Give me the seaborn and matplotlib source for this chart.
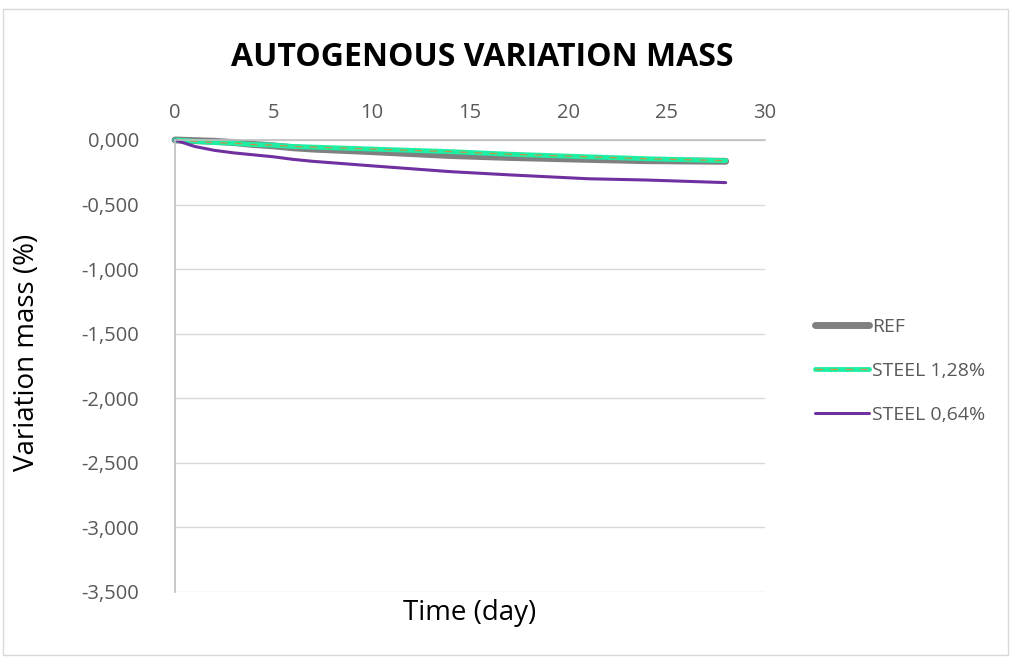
import numpy as np
import pandas as pd
import matplotlib
matplotlib.use("Agg")
import matplotlib.pyplot as plt
import seaborn as sns
from matplotlib.legend_handler import HandlerTuple
from matplotlib.patches import Rectangle

sns.set_style("white")
plt.rcParams["font.family"] = ["Open Sans", "DejaVu Sans"]

days = [0, 1, 2, 3, 4, 5, 6, 7, 10, 14, 17, 21, 24, 28]
ref = [0, -0.005, -0.01, -0.02, -0.035, -0.045, -0.06, -0.07, -0.09, -0.12, -0.135, -0.15, -0.16, -0.165]
steel_128 = [0, -0.01, -0.02, -0.025, -0.035, -0.04, -0.05, -0.055, -0.07, -0.09, -0.11, -0.13, -0.145, -0.16]
steel_064 = [0, -0.05, -0.08, -0.10, -0.115, -0.13, -0.15, -0.165, -0.20, -0.245, -0.27, -0.30, -0.31, -0.33]

df = pd.DataFrame({"day": days, "REF": ref, "STEEL 1,28%": steel_128, "STEEL 0,64%": steel_064})

fig = plt.figure(figsize=(10.11, 6.59), dpi=100)
fig.patches.append(Rectangle((3 / 1011, 4 / 659), 1005 / 1011, 646 / 659, transform=fig.transFigure,
                             fill=False, edgecolor="#d9d9d9", linewidth=1))
ax = fig.add_axes([175 / 1011, 1 - 592 / 659, 590 / 1011, 452 / 659])

sns.lineplot(data=df, x="day", y="REF", ax=ax, color="#808080", linewidth=5, solid_capstyle="round")
sns.lineplot(data=df, x="day", y="STEEL 1,28%", ax=ax, color="#1EEFA4", linewidth=3.5, solid_capstyle="round")
sns.lineplot(data=df, x="day", y="STEEL 1,28%", ax=ax, color="#ED7D31", linewidth=0.9,
             linestyle=(0, (6, 6)), alpha=0.8)
sns.lineplot(data=df, x="day", y="STEEL 0,64%", ax=ax, color="#7030A0", linewidth=2.2, solid_capstyle="round")
for ln in ax.get_lines():
    ln.set_clip_on(False)

ax.set_xlim(0, 30)
ax.set_ylim(-3.5, 0)
ax.set_xticks(range(0, 31, 5))
yt = np.arange(0, -3.51, -0.5)
ax.set_yticks(yt)
ax.set_yticklabels([f"{v:.3f}".replace(".", ",") if v != 0 else "0,000" for v in yt])
ax.xaxis.tick_top()
ax.tick_params(axis="both", length=0, labelsize=14.5, labelcolor="#595959")
ax.tick_params(axis="y", pad=26)
ax.tick_params(axis="x", pad=12)
ax.grid(axis="y", color="#d9d9d9", linewidth=1)
for s in ["right", "bottom"]:
    ax.spines[s].set_visible(False)
for s in ["left", "top"]:
    ax.spines[s].set_color("#bfbfbf")
    ax.spines[s].set_linewidth(1.2)

ax.set_xlabel("")
ax.set_ylabel("")
fig.text(27 / 1011, 1 - 352 / 659, "Variation mass (%)", rotation=90, ha="center", va="center",
         fontsize=20, color="black")
fig.text(470 / 1011, 1 - 613 / 659, "Time (day)", ha="center", va="center", fontsize=20, color="black")
fig.text(482 / 1011, 1 - 58 / 659, "AUTOGENOUS VARIATION MASS", ha="center", va="center",
         fontsize=23, fontweight="bold", color="black")

lines = ax.get_lines()
handles = [lines[0], (lines[1], lines[2]), lines[3]]
labels = ["REF", "STEEL 1,28%", "STEEL 0,64%"]
leg = ax.legend(handles, labels, loc="center left", bbox_to_anchor=(1.071, 0.489), frameon=False,
                borderaxespad=0, fontsize=14, labelspacing=1.34, handlelength=2.8, handletextpad=0.15,
                handler_map={tuple: HandlerTuple(ndivide=1)})
for t in leg.get_texts():
    t.set_color("#595959")

fig.savefig("out.png", dpi=100)
